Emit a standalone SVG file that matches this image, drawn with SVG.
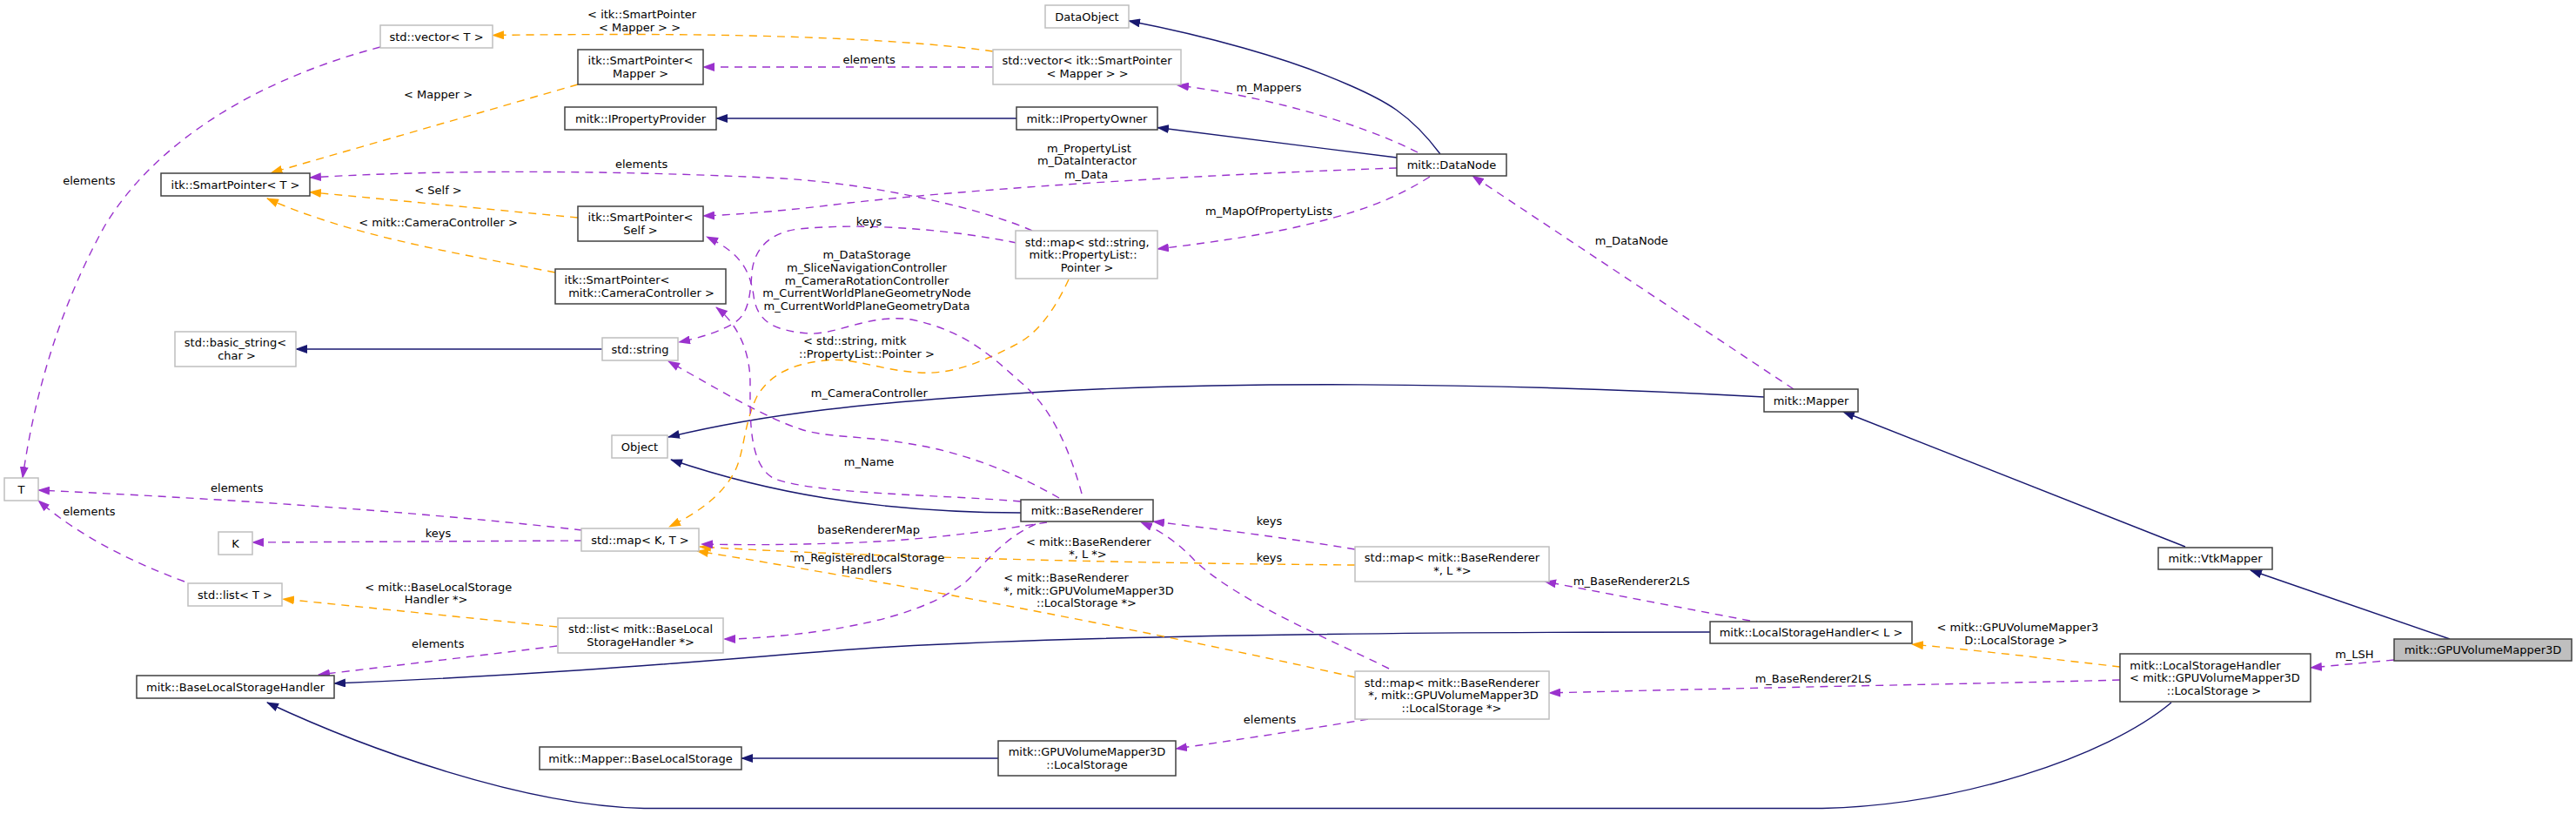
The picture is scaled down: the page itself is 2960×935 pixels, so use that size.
<svg xmlns="http://www.w3.org/2000/svg" width="2960" height="935" viewBox="0 0 2960 935">
<defs>
<style>
text{font-family:"DejaVu Sans","Liberation Sans",sans-serif;font-size:13px;fill:#000;text-anchor:middle}
.nd rect{fill:#fff;stroke:#404040;stroke-width:1.5}
.ug rect{fill:#fff;stroke:#bfbfbf;stroke-width:1.5}
.cur rect{fill:#bfbfbf;stroke:#404040;stroke-width:1.5}
#connectors path{fill:none;stroke-width:1.4}
#connectors .inh{stroke:#191970;marker-end:url(#an)}
#connectors .use{stroke:#9a32cd;stroke-dasharray:9,7;marker-end:url(#ap)}
#connectors .tpl{stroke:#ffa500;stroke-dasharray:9,7;marker-end:url(#ao)}
</style>
<marker id="an" viewBox="0 0 14 10" refX="13" refY="5" markerWidth="14" markerHeight="10" markerUnits="userSpaceOnUse" orient="auto"><path d="M0,0 L14,5 L0,10 z" fill="#191970" stroke="none"/></marker>
<marker id="ap" viewBox="0 0 14 10" refX="13" refY="5" markerWidth="14" markerHeight="10" markerUnits="userSpaceOnUse" orient="auto"><path d="M0,0 L14,5 L0,10 z" fill="#9a32cd" stroke="none"/></marker>
<marker id="ao" viewBox="0 0 14 10" refX="13" refY="5" markerWidth="14" markerHeight="10" markerUnits="userSpaceOnUse" orient="auto"><path d="M0,0 L14,5 L0,10 z" fill="#ffa500" stroke="none"/></marker>
</defs>
<rect x="0" y="0" width="2960" height="935" fill="#fff"/>

<g id="connectors">
<path class="inh" d="M1655,177 C1620,130 1590,115 1551,98 C1480,66 1380,40 1297,24"/>
<path class="inh" d="M1605,181 L1330,146.5"/>
<path class="inh" d="M1168,136 L823,136"/>
<path class="inh" d="M692,401 L340,401"/>
<path class="inh" d="M2027,456 C1700,438 1400,438 1183,451 C1000,462 880,475 768,502"/>
<path class="inh" d="M1173,589 C1000,588 880,565 771,528"/>
<path class="inh" d="M2511,628 L2118,473"/>
<path class="inh" d="M2815,734 L2586,655"/>
<path class="inh" d="M1965,726 C1600,726 1250,730 1023,743 C880,752 700,772 384,785"/>
<path class="inh" d="M2495,807 C2420,870 2250,925 2094,928.5 L740,928.5 C600,925 420,860 307,807"/>
<path class="inh" d="M1147,871 L852,871"/>

<path class="tpl" d="M1141,59 C1050,46 900,40 740,39.5 C660,39.5 600,40 566,40.5"/>
<path class="tpl" d="M664,97 L311.5,198.5"/>
<path class="tpl" d="M664,250 L356,220.7"/>
<path class="tpl" d="M638,313 C520,290 400,270 307,228"/>
<path class="tpl" d="M1228,321 C1210,360 1190,385 1165,397 C1120,420 1090,430 1056,428 C1010,425 980,410 948,414 C910,418 885,430 870,455 C855,485 855,520 845,540 C830,570 800,590 769,605"/>
<path class="tpl" d="M1557,649 C1300,647 1000,640 804,628"/>
<path class="tpl" d="M1557,778 C1300,720 1000,665 801,633"/>
<path class="tpl" d="M640,720 L325,688"/>
<path class="tpl" d="M2436,766 C2360,757 2260,746 2197,740"/>

<path class="use" d="M437,54 C300,90 180,160 120,260 C70,350 40,450 26,549"/>
<path class="use" d="M1141,77 L808,77"/>
<path class="use" d="M1629,175 C1560,140 1450,110 1353,98"/>
<path class="use" d="M1605,193 C1400,200 1150,214 976,233 C920,240 860,246 808,248"/>
<path class="use" d="M1186,265 C1130,240 1010,212 900,205 C700,195 500,195 356,204"/>
<path class="use" d="M1643,203 C1600,230 1560,245 1480,263 C1420,275 1370,281 1330,286"/>
<path class="use" d="M1168,279 C1100,265 1000,255 917,263 C880,268 866,290 864,313 C862,340 860,360 845,370 C830,380 805,388 780,393"/>
<path class="use" d="M1217,572 C1170,545 1110,520 1047,510 C990,500 950,503 920,493 C880,480 830,450 768,415"/>
<path class="use" d="M1173,576 C1080,568 940,568 890,550 C860,535 862,480 862,440 C862,400 845,370 823,353"/>
<path class="use" d="M1243,567 C1230,520 1210,470 1174,440 C1140,410 1110,380 1047,367 C1000,360 960,385 930,383 C890,380 870,370 866,340 C862,310 850,290 812,272"/>
<path class="use" d="M669,609 C500,590 300,575 44,563"/>
<path class="use" d="M669,621 L290,623"/>
<path class="use" d="M212,668 C150,645 90,615 44,575"/>
<path class="use" d="M1203,600 C1140,610 1050,622 960,624 C900,626 850,626 806,625"/>
<path class="use" d="M1190,602 C1150,620 1130,650 1110,668 C1070,700 1000,720 900,730 C870,733 850,734 832,734"/>
<path class="use" d="M1557,631 C1480,618 1400,608 1325,599"/>
<path class="use" d="M1596,768 C1530,735 1420,690 1372,643 C1355,625 1335,610 1311,600"/>
<path class="use" d="M1572,826 C1500,838 1420,850 1351,860"/>
<path class="use" d="M2011,713 L1775,668"/>
<path class="use" d="M2436,781 C2300,785 2000,790 1780,796"/>
<path class="use" d="M2751,758 L2655,767"/>
<path class="use" d="M2061,447 L1692,202"/>
<path class="use" d="M640,742 C560,752 450,765 366,775"/>
</g>

<g id="edge-labels">
<text x="737.6" y="20.5">&lt; itk::SmartPointer</text>
<text x="735" y="36.2">&lt; Mapper &gt; &gt;</text>
<text x="998.6" y="73.2">elements</text>
<text x="1458" y="104.5">m_Mappers</text>
<text x="503.5" y="113.2">&lt; Mapper &gt;</text>
<text x="1251.4" y="175.2">m_PropertyList</text>
<text x="1249" y="189.2">m_DataInteractor</text>
<text x="1248" y="204.5">m_Data</text>
<text x="737.2" y="192.8">elements</text>
<text x="503.5" y="222.8">&lt; Self &gt;</text>
<text x="1458" y="247.2">m_MapOfPropertyLists</text>
<text x="503.5" y="260.2">&lt; mitk::CameraController &gt;</text>
<text x="998.4" y="259.2">keys</text>
<text x="996" y="297.2">m_DataStorage</text>
<text x="996" y="311.9">m_SliceNavigationController</text>
<text x="996" y="326.6">m_CameraRotationController</text>
<text x="996" y="341.3">m_CurrentWorldPlaneGeometryNode</text>
<text x="996" y="356">m_CurrentWorldPlaneGeometryData</text>
<text x="982.3" y="396.2">&lt; std::string, mitk</text>
<text x="996" y="411.2">::PropertyList::Pointer &gt;</text>
<text x="998.8" y="456.2">m_CameraController</text>
<text x="998.6" y="535.2">m_Name</text>
<text x="272.3" y="564.5">elements</text>
<text x="102.4" y="211.8">elements</text>
<text x="102.4" y="591.8">elements</text>
<text x="503.5" y="617.2">keys</text>
<text x="998.2" y="612.8">baseRendererMap</text>
<text x="998.6" y="644.5">m_RegisteredLocalStorage</text>
<text x="995.7" y="658.8">Handlers</text>
<text x="1250.8" y="627.2">&lt; mitk::BaseRenderer</text>
<text x="1250" y="641.2">*, L *&gt;</text>
<text x="1458.4" y="603.2">keys</text>
<text x="1458.4" y="645.2">keys</text>
<text x="1225" y="667.8">&lt; mitk::BaseRenderer</text>
<text x="1251" y="682.8">*, mitk::GPUVolumeMapper3D</text>
<text x="1248.5" y="697.2">::LocalStorage *&gt;</text>
<text x="503.8" y="679.2">&lt; mitk::BaseLocalStorage</text>
<text x="501" y="693.2">Handler *&gt;</text>
<text x="503.3" y="743.8">elements</text>
<text x="1459" y="831.2">elements</text>
<text x="1874.8" y="672.2">m_BaseRenderer2LS</text>
<text x="2083.6" y="783.8">m_BaseRenderer2LS</text>
<text x="2318.3" y="725.2">&lt; mitk::GPUVolumeMapper3</text>
<text x="2316.5" y="740.2">D::LocalStorage &gt;</text>
<text x="2705.4" y="756.2">m_LSH</text>
<text x="1874.8" y="281.2">m_DataNode</text>
</g>

<g id="n_vectorT" class="ug"><rect x="437" y="29" width="129" height="26"/><text x="501.5" y="46.5">std::vector&lt; T &gt;</text></g>
<g id="n_SPMapper" class="nd"><rect x="664" y="57" width="144" height="40"/><text x="736" y="74.25">itk::SmartPointer&lt;</text><text x="736" y="88.75">Mapper &gt;</text></g>
<g id="n_IPropertyProvider" class="nd"><rect x="649" y="123" width="174" height="26"/><text x="736" y="140.5">mitk::IPropertyProvider</text></g>
<g id="n_SPT" class="nd"><rect x="185" y="199" width="171" height="26"/><text x="270.5" y="216.5">itk::SmartPointer&lt; T &gt;</text></g>
<g id="n_SPSelf" class="nd"><rect x="664" y="237" width="144" height="40"/><text x="736" y="254.25">itk::SmartPointer&lt;</text><text x="736" y="268.75">Self &gt;</text></g>
<g id="n_SPCam" class="nd"><rect x="638" y="309" width="196" height="40"/><text x="709" y="326.25">itk::SmartPointer&lt;</text><text x="737" y="340.75">mitk::CameraController &gt;</text></g>
<g id="n_DataObject" class="ug"><rect x="1201" y="6" width="96" height="26"/><text x="1249" y="23.5">DataObject</text></g>
<g id="n_vectorSP" class="ug"><rect x="1141" y="57" width="216" height="40"/><text x="1249" y="74.25">std::vector&lt; itk::SmartPointer</text><text x="1249.6" y="88.75">&lt; Mapper &gt; &gt;</text></g>
<g id="n_IPropertyOwner" class="nd"><rect x="1168" y="123" width="162" height="26"/><text x="1249" y="140.5">mitk::IPropertyOwner</text></g>
<g id="n_mapString" class="ug"><rect x="1167" y="265" width="163" height="55"/><text x="1249.2" y="282.5">std::map&lt; std::string,</text><text x="1244.5" y="297">mitk::PropertyList::</text><text x="1249" y="311.5">Pointer &gt;</text></g>
<g id="n_DataNode" class="nd"><rect x="1605" y="177" width="126" height="25"/><text x="1668" y="194">mitk::DataNode</text></g>
<g id="n_basicString" class="ug"><rect x="201" y="381" width="139" height="40"/><text x="270.5" y="398.25">std::basic_string&lt;</text><text x="272" y="412.75">char &gt;</text></g>
<g id="n_stdString" class="ug"><rect x="692" y="388" width="87" height="26"/><text x="735.5" y="405.5">std::string</text></g>
<g id="n_Object" class="ug"><rect x="703" y="500" width="64" height="26"/><text x="735" y="517.5">Object</text></g>
<g id="n_T" class="ug"><rect x="5" y="549" width="39" height="26"/><text x="24.5" y="566.5">T</text></g>
<g id="n_mapKT" class="ug"><rect x="668" y="607" width="135" height="26"/><text x="735.5" y="624.5">std::map&lt; K, T &gt;</text></g>
<g id="n_K" class="ug"><rect x="251" y="611" width="39" height="26"/><text x="270.5" y="628.5">K</text></g>
<g id="n_listT" class="ug"><rect x="216" y="670" width="108" height="26"/><text x="270" y="687.5">std::list&lt; T &gt;</text></g>
<g id="n_listBLSH" class="ug"><rect x="641" y="710" width="190" height="40"/><text x="736" y="727.25">std::list&lt; mitk::BaseLocal</text><text x="736" y="741.75">StorageHandler *&gt;</text></g>
<g id="n_BaseLSH" class="nd"><rect x="157" y="776" width="227" height="26"/><text x="270.5" y="793.5">mitk::BaseLocalStorageHandler</text></g>
<g id="n_MapperBLS" class="nd"><rect x="620" y="858" width="232" height="26"/><text x="736" y="875.5">mitk::Mapper::BaseLocalStorage</text></g>
<g id="n_BaseRenderer" class="nd"><rect x="1173" y="574" width="152" height="25"/><text x="1249" y="591">mitk::BaseRenderer</text></g>
<g id="n_GPULS" class="nd"><rect x="1147" y="851" width="204" height="40"/><text x="1249" y="868.25">mitk::GPUVolumeMapper3D</text><text x="1249" y="882.75">::LocalStorage</text></g>
<g id="n_mapBRL" class="ug"><rect x="1557" y="628" width="223" height="40"/><text x="1668.5" y="645.25">std::map&lt; mitk::BaseRenderer</text><text x="1669" y="659.75">*, L *&gt;</text></g>
<g id="n_LSHL" class="nd"><rect x="1965" y="714" width="232" height="25"/><text x="2081" y="731">mitk::LocalStorageHandler&lt; L &gt;</text></g>
<g id="n_mapBRGPU" class="ug"><rect x="1557" y="771" width="223" height="55"/><text x="1668.5" y="788.5">std::map&lt; mitk::BaseRenderer</text><text x="1670" y="803">*, mitk::GPUVolumeMapper3D</text><text x="1668" y="817.5">::LocalStorage *&gt;</text></g>
<g id="n_Mapper" class="nd"><rect x="2027" y="447" width="108" height="26"/><text x="2081" y="464.5">mitk::Mapper</text></g>
<g id="n_VtkMapper" class="nd"><rect x="2480" y="629" width="131" height="25"/><text x="2545.5" y="646">mitk::VtkMapper</text></g>
<g id="n_GPUVM3D" class="cur"><rect x="2751" y="734" width="204" height="25"/><text x="2853" y="751">mitk::GPUVolumeMapper3D</text></g>
<g id="n_LSHGPU" class="nd"><rect x="2436" y="751" width="219" height="55"/><text x="2534" y="768.5">mitk::LocalStorageHandler</text><text x="2545" y="783">&lt; mitk::GPUVolumeMapper3D</text><text x="2544" y="797.5">::LocalStorage &gt;</text></g>
</svg>
